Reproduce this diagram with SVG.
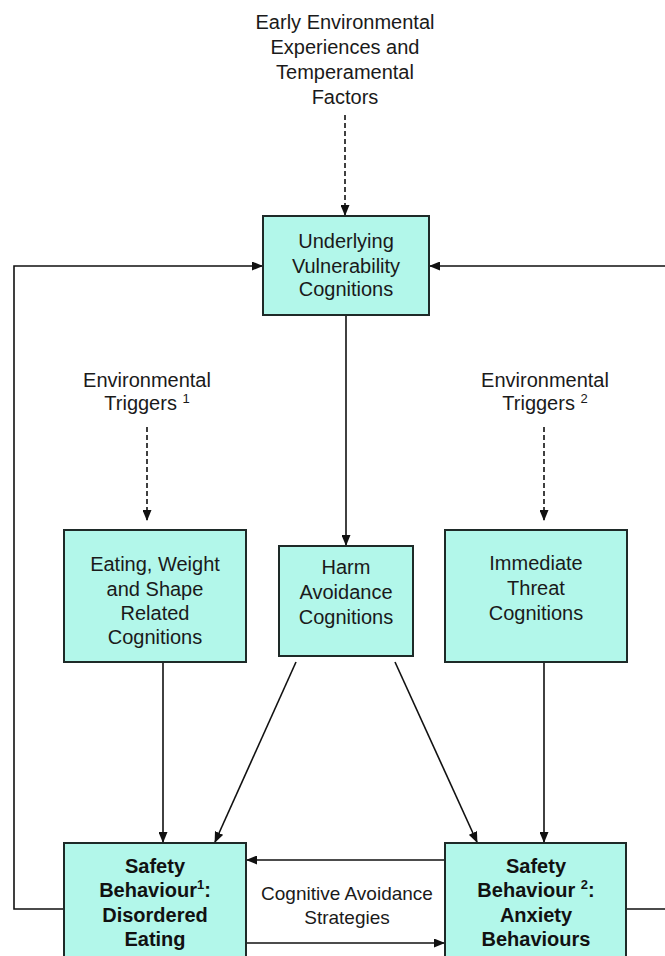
<svg xmlns="http://www.w3.org/2000/svg" width="665" height="956" viewBox="0 0 665 956">
<defs>
<marker id="ah" markerWidth="11" markerHeight="9" refX="10" refY="4.5" orient="auto" markerUnits="userSpaceOnUse">
<path d="M0,0 L11,4.5 L0,9 z" fill="#111"/>
</marker>
<style>
.box{fill:#b2f7ea;stroke:#1e2a28;stroke-width:2}
.t{font-family:"Liberation Sans",Arial,sans-serif;font-size:20px;fill:#1a1a1a;text-anchor:middle}
.b{font-family:"Liberation Sans",Arial,sans-serif;font-size:20px;font-weight:bold;fill:#111;text-anchor:middle}
.ln{fill:none;stroke:#111;stroke-width:1.6}
.ds{fill:none;stroke:#111;stroke-width:1.6;stroke-dasharray:5 3}
.sup{font-size:13px}
</style>
</defs>
<rect width="665" height="956" fill="#fff"/>

<g id="connectors">
<path class="ds" d="M345,115 V215" marker-end="url(#ah)"/>
<path class="ds" d="M147,427 V520" marker-end="url(#ah)"/>
<path class="ds" d="M544,427 V520" marker-end="url(#ah)"/>
<path class="ln" d="M64,909 H14 V266 H262" marker-end="url(#ah)"/>
<path class="ln" d="M626,909 H668 V266 H430" marker-end="url(#ah)"/>
<path class="ln" d="M346,315 V545" marker-end="url(#ah)"/>
<path class="ln" d="M163,662 V842" marker-end="url(#ah)"/>
<path class="ln" d="M544,662 V842" marker-end="url(#ah)"/>
<path class="ln" d="M296,662 L215,842" marker-end="url(#ah)"/>
<path class="ln" d="M395,662 L477,842" marker-end="url(#ah)"/>
<path class="ln" d="M445,860 H247" marker-end="url(#ah)"/>
<path class="ln" d="M246,943 H444" marker-end="url(#ah)"/>
</g>

<g id="early">
<text class="t" x="345" y="29">Early Environmental</text>
<text class="t" x="345" y="54">Experiences and</text>
<text class="t" x="345" y="79">Temperamental</text>
<text class="t" x="345" y="104">Factors</text>
</g>

<g id="underlying">
<rect class="box" x="263" y="216" width="166" height="99"/>
<text class="t" x="346" y="248">Underlying</text>
<text class="t" x="346" y="273">Vulnerability</text>
<text class="t" x="346" y="296">Cognitions</text>
</g>

<g id="trig1">
<text class="t" x="147" y="387">Environmental</text>
<text class="t" x="147" y="410">Triggers <tspan class="sup" dy="-7">1</tspan></text>
</g>

<g id="trig2">
<text class="t" x="545" y="387">Environmental</text>
<text class="t" x="545" y="410">Triggers <tspan class="sup" dy="-7">2</tspan></text>
</g>

<g id="eating">
<rect class="box" x="64" y="530" width="182" height="132"/>
<text class="t" x="155" y="571">Eating, Weight</text>
<text class="t" x="155" y="596">and Shape</text>
<text class="t" x="155" y="620">Related</text>
<text class="t" x="155" y="644">Cognitions</text>
</g>

<g id="harm">
<rect class="box" x="279" y="546" width="134" height="110"/>
<text class="t" x="346" y="574">Harm</text>
<text class="t" x="346" y="599">Avoidance</text>
<text class="t" x="346" y="624">Cognitions</text>
</g>

<g id="immediate">
<rect class="box" x="445" y="530" width="182" height="132"/>
<text class="t" x="536" y="570">Immediate</text>
<text class="t" x="536" y="595">Threat</text>
<text class="t" x="536" y="620">Cognitions</text>
</g>

<g id="safety1">
<rect class="box" x="64" y="843" width="182" height="125"/>
<text class="b" x="155" y="873">Safety</text>
<text class="b" x="155" y="897">Behaviour<tspan class="sup" dy="-8">1</tspan><tspan dy="8">:</tspan></text>
<text class="b" x="155" y="922">Disordered</text>
<text class="b" x="155" y="946">Eating</text>
</g>

<g id="safety2">
<rect class="box" x="445" y="843" width="181" height="125"/>
<text class="b" x="536" y="873">Safety</text>
<text class="b" x="536" y="897">Behaviour <tspan class="sup" dy="-8">2</tspan><tspan dy="8">:</tspan></text>
<text class="b" x="536" y="922">Anxiety</text>
<text class="b" x="536" y="946">Behaviours</text>
</g>

<g id="cas">
<text class="t" x="347" y="900" style="font-size:19px">Cognitive Avoidance</text>
<text class="t" x="347" y="924" style="font-size:19px">Strategies</text>
</g>
</svg>
